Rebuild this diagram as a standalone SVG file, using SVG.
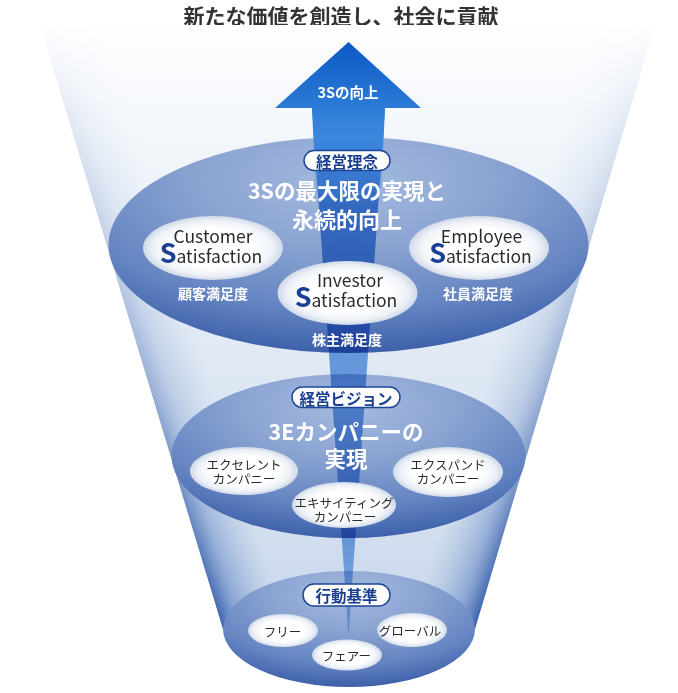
<svg xmlns="http://www.w3.org/2000/svg" width="678" height="693" viewBox="0 0 678 693">
<style>
text{font-family:"Noto Sans CJK JP","Noto Sans",sans-serif;}
.title{font-size:21px;font-weight:700;fill:#333;}
.head{font-size:21.5px;font-weight:700;fill:#fff;}
.sub{font-size:14px;font-weight:700;fill:#fff;}
.pilltxt{font-size:15.5px;font-weight:700;fill:#1a3f8f;}
.pill{fill:#fff;stroke:#1d4697;stroke-width:1.5;}
.en{font-size:17.5px;fill:#2a2a2a;}
.S{font-size:27px;font-weight:700;fill:#1b3f94;}
.kana{font-size:12.5px;fill:#2a2a2a;}
.disk{fill:url(#diskG);}
.oval{fill:url(#ovalG);}
</style>
<defs>
<linearGradient id="funnelG" gradientUnits="userSpaceOnUse" x1="0" y1="25" x2="0" y2="629">
<stop offset="0" stop-color="#fefeff"/>
<stop offset="0.2" stop-color="#f2f6fb"/>
<stop offset="0.55" stop-color="#e0e9f4"/>
<stop offset="0.78" stop-color="#d6e2f0"/>
<stop offset="1" stop-color="#c6d6eb"/>
</linearGradient>
<linearGradient id="edgeL" gradientUnits="userSpaceOnUse" x1="40" y1="25" x2="97.4" y2="7.6">
<stop offset="0" stop-color="#3d64ae" stop-opacity="1"/>
<stop offset="0.3" stop-color="#5278bd" stop-opacity="0.55"/>
<stop offset="1" stop-color="#7f9fd0" stop-opacity="0"/>
</linearGradient>
<linearGradient id="edgeR" gradientUnits="userSpaceOnUse" x1="655" y1="25" x2="597.5" y2="7.8">
<stop offset="0" stop-color="#3d64ae" stop-opacity="1"/>
<stop offset="0.3" stop-color="#5278bd" stop-opacity="0.55"/>
<stop offset="1" stop-color="#7f9fd0" stop-opacity="0"/>
</linearGradient>
<linearGradient id="maskG" gradientUnits="userSpaceOnUse" x1="0" y1="25" x2="0" y2="629">
<stop offset="0" stop-color="#000"/>
<stop offset="0.15" stop-color="#181818"/>
<stop offset="0.4" stop-color="#444"/>
<stop offset="0.6" stop-color="#707070"/>
<stop offset="0.78" stop-color="#aaa"/>
<stop offset="1" stop-color="#fff"/>
</linearGradient>
<mask id="edgeMask" maskUnits="userSpaceOnUse" x="0" y="0" width="678" height="693">
<rect x="0" y="0" width="678" height="693" fill="url(#maskG)"/>
</mask>
<radialGradient id="diskG" cx="0.5" cy="0.2" r="0.85" fx="0.5" fy="0.2">
<stop offset="0" stop-color="#a4badf"/>
<stop offset="0.35" stop-color="#8ca5d2"/>
<stop offset="0.7" stop-color="#6585c2"/>
<stop offset="0.94" stop-color="#3d60aa"/>
<stop offset="1" stop-color="#33549f"/>
</radialGradient>
<radialGradient id="ovalG" cx="0.5" cy="0.5" r="0.5">
<stop offset="0" stop-color="#ffffff"/>
<stop offset="0.6" stop-color="#ffffff"/>
<stop offset="0.86" stop-color="#edf1f7"/>
<stop offset="1" stop-color="#d0d9e8"/>
</radialGradient>
<linearGradient id="headG" gradientUnits="userSpaceOnUse" x1="0" y1="42" x2="0" y2="108">
<stop offset="0" stop-color="#0a59c4"/>
<stop offset="1" stop-color="#2d7bd7"/>
</linearGradient>
<linearGradient id="shaftG" gradientUnits="userSpaceOnUse" x1="0" y1="107" x2="0" y2="205">
<stop offset="0" stop-color="#2e7dd8" stop-opacity="1"/>
<stop offset="0.32" stop-color="#3a88de" stop-opacity="1"/>
<stop offset="1" stop-color="#4a90e0" stop-opacity="0"/>
</linearGradient>
<linearGradient id="beamG" gradientUnits="userSpaceOnUse" x1="0" y1="107" x2="0" y2="636">
<stop offset="0" stop-color="#2f80d8"/>
<stop offset="0.06" stop-color="#3d8ade"/>
<stop offset="0.18" stop-color="#5596e1"/>
<stop offset="0.48" stop-color="#72a6e4"/>
<stop offset="0.82" stop-color="#7cade6"/>
<stop offset="1" stop-color="#b0cff0"/>
</linearGradient>
</defs>

<rect x="0" y="0" width="678" height="693" fill="#ffffff"/>

<g id="title">
<text class="title" x="341" y="15" text-anchor="middle" dominant-baseline="central">新たな価値を創造し、社会に貢献</text>
</g>

<g id="funnel">
<polygon points="40,25 655,25 475,629 223,629" fill="url(#funnelG)"/>
<g mask="url(#edgeMask)">
<polygon points="40,25 655,25 475,629 223,629" fill="url(#edgeL)"/>
<polygon points="40,25 655,25 475,629 223,629" fill="url(#edgeR)"/>
</g>
</g>

<g id="disks">
<ellipse class="disk" cx="348.5" cy="245" rx="240" ry="108"/>
<ellipse class="disk" cx="348.5" cy="456" rx="177" ry="82"/>
<ellipse class="disk" cx="349" cy="629" rx="126" ry="58"/>
</g>

<g id="connectors">
<polygon points="312,107 385,107 348.5,636" fill="url(#beamG)" style="mix-blend-mode:multiply"/>
<polygon points="312,107 385,107 380.7,205 316.2,205" fill="url(#shaftG)"/>
<polygon points="275,108 348.5,42 421,108" fill="url(#headG)"/>
<text x="348" y="91" text-anchor="middle" dominant-baseline="central" style="font-size:14.5px;font-weight:700;fill:#fff;">3Sの向上</text>
</g>

<g id="philosophy">
<rect class="pill" x="304" y="150.5" width="86" height="20" rx="10"/>
<text class="pilltxt" x="347" y="160.5" text-anchor="middle" dominant-baseline="central">経営理念</text>
<text class="head" x="347" y="189" text-anchor="middle" dominant-baseline="central">3Sの最大限の実現と</text>
<text class="head" x="347" y="217.5" text-anchor="middle" dominant-baseline="central" style="font-size:22px">永続的向上</text>
</g>

<g id="customer">
<ellipse class="oval" cx="213" cy="248" rx="70" ry="32"/>
<text class="en" x="213" y="243" text-anchor="middle">Customer</text>
<text class="en" x="211" y="263" text-anchor="middle"><tspan class="S">S</tspan>atisfaction</text>
<text class="sub" x="213" y="293" text-anchor="middle" dominant-baseline="central">顧客満足度</text>
</g>

<g id="employee">
<ellipse class="oval" cx="479" cy="248" rx="70" ry="32"/>
<text class="en" x="481.5" y="243" text-anchor="middle">Employee</text>
<text class="en" x="480.5" y="263" text-anchor="middle"><tspan class="S">S</tspan>atisfaction</text>
<text class="sub" x="478" y="293" text-anchor="middle" dominant-baseline="central">社員満足度</text>
</g>

<g id="investor">
<ellipse class="oval" cx="347.5" cy="293" rx="70" ry="32"/>
<text class="en" x="350" y="287" text-anchor="middle">Investor</text>
<text class="en" x="346" y="307" text-anchor="middle"><tspan class="S">S</tspan>atisfaction</text>
<text class="sub" x="347" y="339" text-anchor="middle" dominant-baseline="central">株主満足度</text>
</g>

<g id="vision">
<rect class="pill" x="292" y="387" width="108" height="20.5" rx="10.25"/>
<text class="pilltxt" x="346" y="397.5" text-anchor="middle" dominant-baseline="central">経営ビジョン</text>
<text class="head" x="346" y="430" text-anchor="middle" dominant-baseline="central">3Eカンパニーの</text>
<text class="head" x="346" y="457" text-anchor="middle" dominant-baseline="central">実現</text>
</g>

<g id="excellent">
<ellipse class="oval" cx="244" cy="471" rx="54" ry="24"/>
<text class="kana" text-anchor="middle" dominant-baseline="central"><tspan x="244" y="464">エクセレント</tspan><tspan x="244" y="478">カンパニー</tspan></text>
</g>

<g id="expand">
<ellipse class="oval" cx="448" cy="472" rx="55" ry="25"/>
<text class="kana" text-anchor="middle" dominant-baseline="central"><tspan x="448" y="464">エクスパンド</tspan><tspan x="448" y="478">カンパニー</tspan></text>
</g>

<g id="exciting">
<ellipse class="oval" cx="344" cy="505" rx="52" ry="23"/>
<text class="kana" text-anchor="middle" dominant-baseline="central"><tspan x="344" y="502">エキサイティング</tspan><tspan x="345" y="516">カンパニー</tspan></text>
</g>

<g id="conduct">
<rect class="pill" x="303" y="584" width="87" height="22" rx="11"/>
<text class="pilltxt" x="346.5" y="595" text-anchor="middle" dominant-baseline="central">行動基準</text>
</g>

<g id="free">
<ellipse class="oval" cx="283" cy="630.5" rx="35" ry="16.5"/>
<text class="kana" x="282.5" y="631" text-anchor="middle" dominant-baseline="central">フリー</text>
</g>

<g id="global">
<ellipse class="oval" cx="412" cy="630" rx="35" ry="17"/>
<text class="kana" x="410" y="630" text-anchor="middle" dominant-baseline="central">グローバル</text>
</g>

<g id="fair">
<ellipse class="oval" cx="347" cy="655" rx="35" ry="15.5"/>
<text class="kana" x="346.5" y="655" text-anchor="middle" dominant-baseline="central">フェアー</text>
</g>
</svg>
